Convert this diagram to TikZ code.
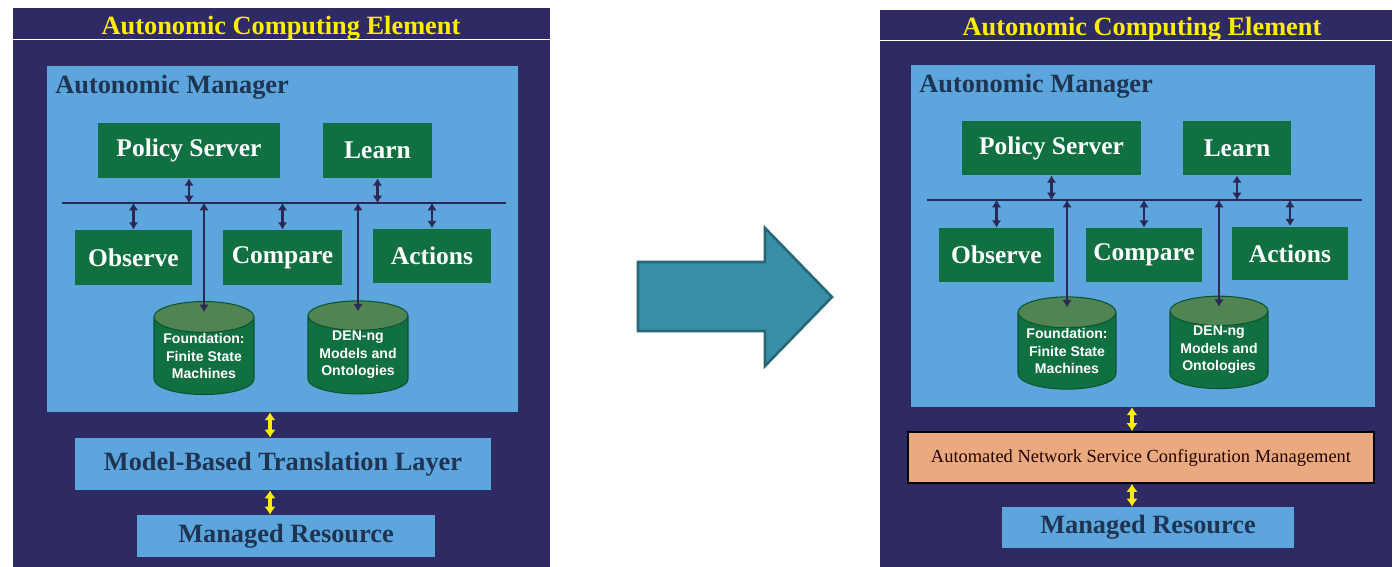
\documentclass[tikz,border=0pt]{standalone}
\usepackage{fontspec}
\setmainfont{Liberation Serif}
\newfontfamily\cylfont{Liberation Sans}
\usetikzlibrary{shapes,arrows,arrows.meta}
\definecolor{navy}{RGB}{46,43,100}
\definecolor{skyblue}{RGB}{92,166,221}
\definecolor{boxgreen}{RGB}{16,112,66}
\definecolor{cyltop}{RGB}{80,132,82}
\definecolor{titleyellow}{RGB}{255,238,0}
\definecolor{labelnavy}{RGB}{32,52,82}
\definecolor{arrownavy}{RGB}{44,40,84}
\definecolor{ansorange}{RGB}{232,170,126}
\definecolor{bigteal}{RGB}{58,143,168}
\definecolor{tealedge}{RGB}{38,104,120}
\tikzstyle{panel} = [fill=navy, rectangle, inner sep=0pt]
\tikzstyle{manager} = [fill=skyblue, rectangle, inner sep=0pt]
\tikzstyle{title} = [text=titleyellow, font=\fontsize{15}{18}\selectfont\bfseries]
\tikzstyle{amlabel} = [text=labelnavy, font=\fontsize{15}{18}\selectfont\bfseries, inner sep=0pt]
\tikzstyle{block} = [fill=boxgreen, rectangle, text=white, inner sep=0pt,
    font=\fontsize{14.5}{17}\selectfont\bfseries]
\tikzstyle{store} = [cylinder, shape border rotate=90, aspect=0.38,
    cylinder uses custom fill, cylinder body fill=boxgreen, cylinder end fill=cyltop,
    draw=boxgreen!75!black, line width=0.6pt,
    text=white, align=center, inner sep=0pt,
    font=\cylfont\fontsize{8}{10}\selectfont\bfseries]
\tikzstyle{layer} = [fill=skyblue, rectangle, text=labelnavy, inner sep=0pt,
    font=\fontsize{15}{18}\selectfont\bfseries]
\tikzstyle{config} = [fill=ansorange, draw=black, line width=1pt, rectangle,
    text=black!85!red, inner sep=0pt, font=\fontsize{10.5}{12}\selectfont]
\tikzstyle{bus} = [draw=arrownavy, line width=1.3pt]
\tikzstyle{link} = [draw=arrownavy, line width=1.3pt, {Latex[length=4.2pt,width=5.5pt]}-{Latex[length=4.2pt,width=5.5pt]}]
\tikzstyle{ylink} = [draw=titleyellow, line width=1.8pt, {Latex[length=4.5pt,width=6.5pt]}-{Latex[length=4.5pt,width=6.5pt]}]

\begin{document}
\begin{tikzpicture}[x=0.02cm, y=-0.02cm]
    \useasboundingbox (0,0) rectangle (1394,567);
    % left element: the panels first
    \node [panel, minimum width=10.74cm, minimum height=11.18cm] (Lace) at (281.5,287.5) {};
    \node [title] (Ltitle) at (281,28) {Autonomic Computing Element};
    \draw [white, line width=0.5pt] ([yshift=-0.64cm]Lace.north west) -- ([yshift=-0.64cm]Lace.north east);
    \node [manager, minimum width=9.42cm, minimum height=6.92cm] (Lam) at (282.5,239) {};
    \node [amlabel, anchor=west] (Lamname) at (55,87) {Autonomic Manager};

    % the blocks of the manager
    \node [block, minimum width=3.64cm, minimum height=1.1cm] (Lpolicy) at (189,150.5) {Policy Server};
    \node [block, minimum width=2.18cm, minimum height=1.1cm] (Llearn) at (377.5,150.5) {Learn};
    \node [block, minimum width=2.34cm, minimum height=1.1cm] (Lobserve) at (133.5,257.5) {Observe};
    \node [block, minimum width=2.38cm, minimum height=1.1cm] (Lcompare) at (282.5,257.5) {Compare};
    \node [block, minimum width=2.36cm, minimum height=1.1cm] (Lactions) at (432,256) {Actions};
    \node [store, minimum width=2cm, minimum height=1.86cm] (Lfsm) at (204,356)
        {Foundation:\\Finite State\\Machines};
    \node [store, minimum width=2cm, minimum height=1.86cm] (Lden) at (358,355)
        {DEN-ng\\Models and\\Ontologies};
    \coordinate (Lbusw) at (62,203);
    \coordinate (Lbuse) at (506,203);
    \draw [bus] (Lbusw) -- (Lbuse);

    % connecting the blocks to the bus
    \draw [link] (Lpolicy.south) -- (Lpolicy.south |- Lbusw);
    \draw [link] (Llearn.south) -- (Llearn.south |- Lbusw);
    \draw [link] (Lobserve.north) -- (Lobserve.north |- Lbusw);
    \draw [link] (Lcompare.north) -- (Lcompare.north |- Lbusw);
    \draw [link] (Lactions.north) -- (Lactions.north |- Lbusw);
    \draw [link] ([yshift=-0.22cm]Lfsm.top) -- (Lfsm.top |- Lbusw);
    \draw [link] ([yshift=-0.22cm]Lden.top) -- (Lden.top |- Lbusw);

    % the layers below
    \node [layer, minimum width=8.32cm, minimum height=1.04cm] (Llayer) at (283,464)
        {Model-Based Translation Layer};
    \node [layer, minimum width=5.96cm, minimum height=0.84cm] (Lres) at (286,536)
        {Managed Resource};
    \coordinate (Lx) at (270,0);
    \draw [ylink] (Lam.south -| Lx) -- (Llayer.north -| Lx);
    \draw [ylink] (Llayer.south -| Lx) -- (Lres.north -| Lx);

    % the big arrow
    \draw [fill=bigteal, draw=tealedge, line width=1.5pt] (638,262) -- (765,262) -- (765,228)
        -- (832,297) -- (765,366) -- (765,331) -- (638,331) -- cycle;

    % right element
    \node [panel, minimum width=10.24cm, minimum height=11.14cm] (Race) at (1136,288.5) {};
    \node [title] (Rtitle) at (1142,29) {Autonomic Computing Element};
    \draw [white, line width=0.5pt] ([yshift=-0.62cm]Race.north west) -- ([yshift=-0.62cm]Race.north east);
    \node [manager, minimum width=9.28cm, minimum height=6.84cm] (Ram) at (1143,236) {};
    \node [amlabel, anchor=west] (Ramname) at (919,86) {Autonomic Manager};

    \node [block, minimum width=3.58cm, minimum height=1.08cm] (Rpolicy) at (1051.5,148) {Policy Server};
    \node [block, minimum width=2.16cm, minimum height=1.08cm] (Rlearn) at (1237,148) {Learn};
    \node [block, minimum width=2.3cm, minimum height=1.08cm] (Robserve) at (996.5,255) {Observe};
    \node [block, minimum width=2.32cm, minimum height=1.08cm] (Rcompare) at (1144,255) {Compare};
    \node [block, minimum width=2.32cm, minimum height=1.08cm] (Ractions) at (1290,253.5) {Actions};
    \node [store, minimum width=1.96cm, minimum height=1.84cm] (Rfsm) at (1067,351)
        {Foundation:\\Finite State\\Machines};
    \node [store, minimum width=1.96cm, minimum height=1.84cm] (Rden) at (1219,350)
        {DEN-ng\\Models and\\Ontologies};
    \coordinate (Rbusw) at (927,200);
    \coordinate (Rbuse) at (1362,200);
    \draw [bus] (Rbusw) -- (Rbuse);

    \draw [link] (Rpolicy.south) -- (Rpolicy.south |- Rbusw);
    \draw [link] (Rlearn.south) -- (Rlearn.south |- Rbusw);
    \draw [link] (Robserve.north) -- (Robserve.north |- Rbusw);
    \draw [link] (Rcompare.north) -- (Rcompare.north |- Rbusw);
    \draw [link] (Ractions.north) -- (Ractions.north |- Rbusw);
    \draw [link] ([yshift=-0.22cm]Rfsm.top) -- (Rfsm.top |- Rbusw);
    \draw [link] ([yshift=-0.22cm]Rden.top) -- (Rden.top |- Rbusw);

    \node [config, minimum width=9.32cm, minimum height=1.02cm] (Rconfig) at (1141,457.5)
        {Automated Network Service Configuration Management};
    \node [layer, minimum width=5.84cm, minimum height=0.82cm] (Rres) at (1148,527.5)
        {Managed Resource};
    \coordinate (Rx) at (1132,0);
    \draw [ylink] (Ram.south -| Rx) -- (Rconfig.north -| Rx);
    \draw [ylink] (Rconfig.south -| Rx) -- (Rres.north -| Rx);
\end{tikzpicture}
\end{document}
